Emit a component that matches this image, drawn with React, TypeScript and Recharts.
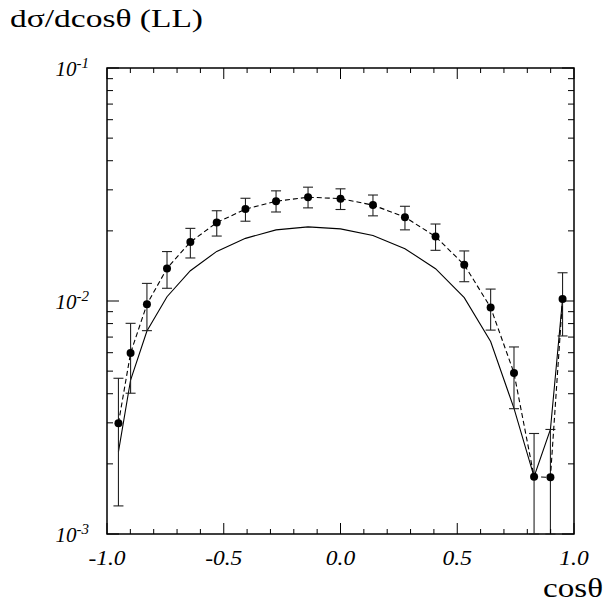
import { ComposedChart, Line, XAxis, YAxis, ErrorBar, ReferenceArea } from 'recharts';

// cos(theta) bin centres
const cosTheta = [
    -0.951, -0.899, -0.829, -0.743, -0.643, -0.53, -0.407, -0.276, -0.139, 0,
    0.139, 0.276, 0.407, 0.53, 0.643, 0.743, 0.829, 0.899, 0.951,
];

// measured points
const measured = [
    0.00299, 0.00598, 0.00968, 0.0138, 0.0179, 0.0217, 0.0248, 0.0268, 0.0279, 0.0275,
    0.0258, 0.0229, 0.0189, 0.0143, 0.00938, 0.00491, 0.00176, 0.00175, 0.0102,
];
const errLow = [
    0.00132, 0.00402, 0.00746, 0.01134, 0.0153, 0.019, 0.022, 0.0241, 0.0251, 0.0247,
    0.0232, 0.0202, 0.0165, 0.0121, 0.0075, 0.00345, 0.001, 0.001, 0.00708,
];
const errHigh = [
    0.00466, 0.00802, 0.0119, 0.0163, 0.0205, 0.0244, 0.0276, 0.0297, 0.0308, 0.0303,
    0.0285, 0.0255, 0.0214, 0.0164, 0.01125, 0.00635, 0.0027, 0.00281, 0.01322,
];

// theory curve (solid)
const theory = [
    0.00225, 0.00458, 0.00743, 0.01043, 0.01349, 0.01633, 0.01857, 0.0202, 0.0208, 0.0204,
    0.0191, 0.01677, 0.01376, 0.01033, 0.0067, 0.00346, 0.00176, 0.00281, 0.0102,
];

const xTicks = [
    -1, -0.9, -0.8, -0.7, -0.6, -0.5, -0.4, -0.3, -0.2, -0.1, 0,
    0.1, 0.2, 0.3, 0.4, 0.5, 0.6, 0.7, 0.8, 0.9, 1,
];
const xLabels: Record<string, string> = { '-1': '-1.0', '-0.5': '-0.5', '0': '0.0', '0.5': '0.5', '1': '1.0' };

const yTicks = [
    0.001, 0.002, 0.003, 0.004, 0.005, 0.006, 0.007, 0.008, 0.009,
    0.01, 0.02, 0.03, 0.04, 0.05, 0.06, 0.07, 0.08, 0.09, 0.1,
];
const yLabels: Record<string, string> = { '0.001': '-3', '0.01': '-2', '0.1': '-1' };

const W = 608;
const H = 607;
const LEFT = 107;
const RIGHT = 574;
const TOP = 68;
const BOTTOM = 534;
const FONT = '"Liberation Serif", "DejaVu Serif", serif';

const rows = cosTheta.map((x, i) => ({
    x,
    theory: theory[i],
    data: measured[i],
    err: [measured[i] - errLow[i], errHigh[i] - measured[i]],
}));

function XTick({ x, payload }: any) {
    const label = xLabels[String(payload.value)];
    const len = label ? 11 : 5;
    return (
        <g>
            <line x1={x} y1={BOTTOM} x2={x} y2={BOTTOM - len} stroke="#000" strokeWidth={1} />
            <line x1={x} y1={TOP} x2={x} y2={TOP + len} stroke="#000" strokeWidth={1} />
            {label && (
                <text
                    transform={`translate(${x},${BOTTOM + 31}) scale(1.12,1)`}
                    textAnchor="middle"
                    fontFamily={FONT}
                    fontStyle="italic"
                    fontSize={21}
                    fill="#000"
                >
                    {label}
                </text>
            )}
        </g>
    );
}

function YTick({ y, payload }: any) {
    const exp = yLabels[String(payload.value)];
    const len = exp ? 12 : 6;
    return (
        <g>
            <line x1={LEFT} y1={y} x2={LEFT + len} y2={y} stroke="#000" strokeWidth={1} />
            <line x1={RIGHT} y1={y} x2={RIGHT - len} y2={y} stroke="#000" strokeWidth={1} />
            {exp && (
                <text x={89} y={y + 8} textAnchor="end" fontFamily={FONT} fontStyle="italic" fontSize={21} fill="#000">
                    <tspan>10</tspan>
                    <tspan dy={-8} fontSize={15}>{exp}</tspan>
                </text>
            )}
        </g>
    );
}

export default function App() {
    return (
        <div style={{ position: 'absolute', left: 0, top: 0, width: W, height: H, background: '#fff' }}>
            <ComposedChart
                width={W}
                height={H}
                data={rows}
                margin={{ top: TOP, right: W - RIGHT, bottom: H - BOTTOM - 30, left: LEFT - 60 }}
            >
                <XAxis
                    dataKey="x"
                    type="number"
                    domain={[-1, 1]}
                    ticks={xTicks}
                    interval={0}
                    height={30}
                    axisLine={false}
                    tickLine={false}
                    tick={<XTick />}
                    allowDataOverflow
                />
                <YAxis
                    type="number"
                    scale="log"
                    domain={[0.001, 0.1]}
                    ticks={yTicks}
                    interval={0}
                    width={60}
                    axisLine={false}
                    tickLine={false}
                    tick={<YTick />}
                    allowDataOverflow
                />
                <ReferenceArea x1={-1} x2={1} y1={0.001} y2={0.1} fill="none" stroke="#000" strokeWidth={1.5} />
                <Line
                    dataKey="theory"
                    type="linear"
                    stroke="#000"
                    strokeWidth={1.1}
                    dot={false}
                    isAnimationActive={false}
                />
                <Line
                    dataKey="data"
                    type="linear"
                    stroke="#000"
                    strokeWidth={1.1}
                    strokeDasharray="5 3"
                    dot={{ r: 4, fill: '#000', stroke: '#000', strokeWidth: 0 }}
                    isAnimationActive={false}
                >
                    <ErrorBar dataKey="err" width={5} stroke="#222" strokeWidth={1.1} direction="y" />
                </Line>
            </ComposedChart>
            <svg width={W} height={H} style={{ position: 'absolute', left: 0, top: 0, pointerEvents: 'none' }}>
                <text
                    x={10}
                    y={27}
                    fontFamily={FONT}
                    fontSize={25}
                    fill="#000"
                    textLength={193}
                    lengthAdjust="spacingAndGlyphs"
                >
                    dσ/dcosθ (LL)
                </text>
                <text
                    x={543}
                    y={597}
                    fontFamily={FONT}
                    fontSize={28}
                    fill="#000"
                    textLength={60}
                    lengthAdjust="spacingAndGlyphs"
                >
                    cosθ
                </text>
            </svg>
        </div>
    );
}
